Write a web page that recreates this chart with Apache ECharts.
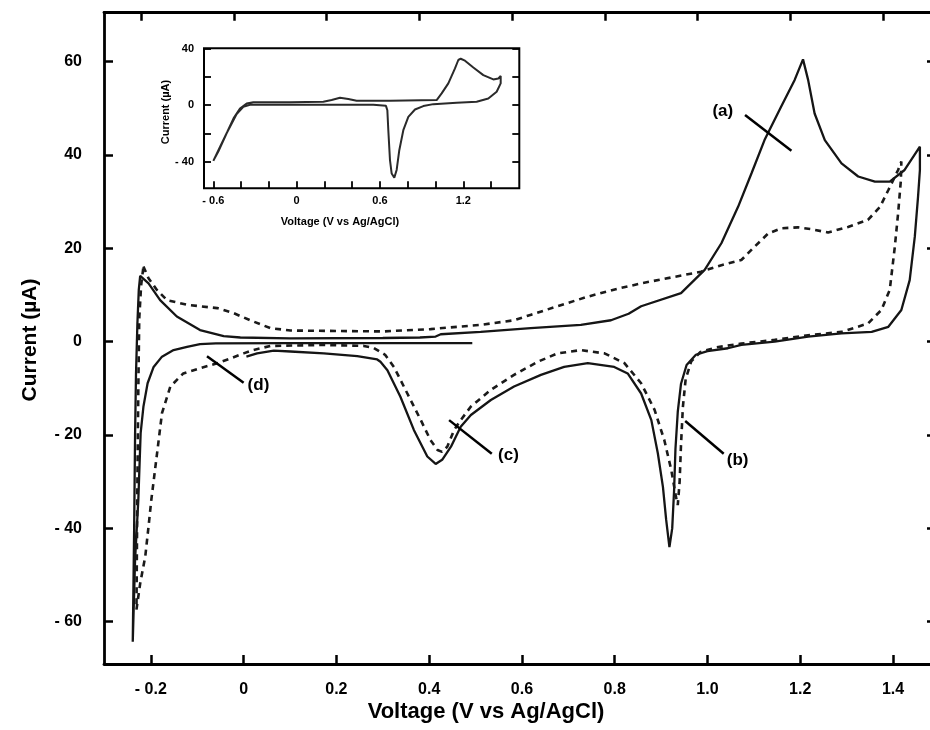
<!DOCTYPE html>
<html><head><meta charset="utf-8">
<script src="https://cdn.jsdelivr.net/npm/echarts@6/dist/echarts.min.js"></script>
<style>html,body{margin:0;padding:0;background:#fff}#c{width:930px;height:730px}</style>
</head><body><div id="c"></div>
<script>
// ---------- DATA ----------
const xTickValues = [-0.2, 0, 0.2, 0.4, 0.6, 0.8, 1.0, 1.2, 1.4];
const yTickValues = [-60, -40, -20, 0, 20, 40, 60];
const insetXTickValues = [-0.6, -0.4, -0.2, 0, 0.2, 0.4, 0.6, 0.8, 1.0, 1.2, 1.4];
const insetXLabelValues = [-0.6, 0, 0.6, 1.2];
const insetYTickValues = [-40, -20, 0, 20, 40];
const insetYLabelValues = [-40, 0, 40];

// solid CV (V, µA)
const solidCurve = [
 [0.493,-0.3],[0.3,-0.3],[0.1,-0.3],[-0.06,-0.35],[-0.094,-0.5],[-0.122,-1.1],[-0.151,-1.8],[-0.176,-3.2],
 [-0.194,-5.4],[-0.207,-8.9],[-0.216,-13.9],[-0.222,-19.6],[-0.227,-33.9],[-0.234,-46.7],[-0.239,-64.3],
 [-0.236,-40],[-0.234,-20],[-0.232,-6.8],[-0.229,3.9],[-0.226,11.1],[-0.223,14.1],[-0.205,12.5],[-0.18,8.9],
 [-0.144,5.4],[-0.094,2.5],[-0.043,1.2],[-0.007,0.9],[0.1,0.7],[0.3,0.8],[0.38,0.9],[0.414,1.1],[0.425,1.6],
 [0.511,2.1],[0.619,2.9],[0.727,3.6],[0.792,4.6],[0.83,6.0],[0.857,7.6],[0.943,10.4],[0.994,15.4],[1.03,21.1],
 [1.066,28.9],[1.095,36.1],[1.123,43.2],[1.159,50.4],[1.188,56.1],[1.206,60.5],[1.217,56.1],[1.231,48.9],
 [1.253,43.2],[1.289,38.2],[1.325,35.4],[1.361,34.3],[1.393,34.3],[1.425,36.8],[1.458,41.8],
 [1.458,36.8],[1.454,31.1],[1.447,22.5],[1.436,13.2],[1.418,6.8],[1.39,3.2],[1.354,2.1],[1.289,1.8],[1.217,1.1],
 [1.145,0],[1.073,-0.7],[1.044,-1.4],[1.0,-2.0],[0.975,-2.8],[0.955,-5.0],[0.943,-9],[0.936,-15],[0.931,-23],
 [0.928,-32],[0.924,-40],[0.918,-44],[0.911,-38.2],[0.904,-31.1],[0.893,-23.9],[0.879,-16.8],[0.857,-11.1],
 [0.828,-6.8],[0.799,-5.4],[0.742,-4.6],[0.691,-5.4],[0.641,-7.1],[0.583,-9.6],[0.533,-12.5],[0.49,-15.7],
 [0.468,-18.2],[0.447,-22.5],[0.428,-25.3],[0.414,-26.2],[0.396,-24.6],[0.367,-18.9],[0.338,-11.8],[0.31,-6.1],
 [0.295,-4.3],[0.288,-3.8],[0.245,-3.1],[0.173,-2.5],[0.101,-2.1],[0.065,-1.9],[0.029,-2.5],[0.006,-3.2]
];

// dashed CV (V, µA)
const dashedCurve = [
 [-0.216,16.1],[-0.205,13.6],[-0.187,11.1],[-0.165,8.9],[-0.122,7.9],[-0.057,7.2],[-0.021,6.1],[0.014,4.6],
 [0.058,2.9],[0.101,2.4],[0.2,2.3],[0.3,2.2],[0.403,2.7],[0.511,3.6],[0.583,4.6],[0.62,5.8],[0.68,7.7],
 [0.74,9.6],[0.8,11.2],[0.857,12.5],[0.929,13.9],[0.986,15],[1.03,16.4],[1.073,17.5],[1.102,20.4],[1.131,23.2],
 [1.159,24.3],[1.195,24.5],[1.224,24.1],[1.26,23.4],[1.303,24.6],[1.346,26.1],[1.372,28.9],[1.39,32.5],
 [1.411,36.8],[1.418,38.6],[1.417,34.6],[1.411,27.5],[1.404,20.4],[1.393,11.1],[1.375,6.8],[1.346,3.9],
 [1.289,2.1],[1.217,1.4],[1.145,0.4],[1.073,-0.4],[1.02,-1.2],[0.985,-2.2],[0.965,-4.2],[0.953,-8],[0.947,-14],
 [0.943,-22],[0.94,-30],[0.936,-35],[0.932,-33.2],[0.922,-27.5],[0.907,-21.1],[0.886,-14.6],[0.857,-8.9],
 [0.821,-4.6],[0.778,-2.5],[0.727,-1.8],[0.677,-2.5],[0.634,-4.3],[0.583,-7.1],[0.533,-10.3],[0.49,-13.9],
 [0.468,-16.8],[0.454,-18.9],[0.439,-22.5],[0.428,-23.6],[0.418,-23.2],[0.403,-21.1],[0.382,-16.8],
 [0.353,-11.1],[0.324,-5.4],[0.305,-2.8],[0.28,-1.3],[0.259,-0.9],[0.173,-0.7],[0.058,-0.9],[0.02,-1.8],
 [0,-2.5],[-0.029,-3.6],[-0.057,-4.6],[-0.094,-5.7],[-0.13,-6.8],[-0.158,-9.6],[-0.176,-15.3],[-0.183,-21],
 [-0.199,-33.9],[-0.205,-39.6],[-0.212,-46],[-0.223,-51.8],[-0.231,-57.4],[-0.229,-30],[-0.227,-10],
 [-0.225,5],[-0.221,12],[-0.216,16.1]
];

// inset CV (V, µA)
const insetCurve = [
 [-0.6,-39.5],[-0.552,-29.6],[-0.499,-18.9],[-0.451,-8.8],[-0.408,-2.4],[-0.36,1.2],[-0.312,2.1],[-0.048,2.1],
 [0.192,2.4],[0.252,3.6],[0.312,5.2],[0.372,4.3],[0.432,3.1],[0.672,3.1],[1.008,3.6],[1.044,8.3],[1.092,15.4],
 [1.14,26],[1.164,32],[1.181,32.9],[1.212,31.5],[1.272,26.7],[1.344,21.3],[1.416,18.2],[1.452,18.9],[1.469,20.6],
 [1.469,15.4],[1.44,9.5],[1.38,4.7],[1.296,2.4],[1.152,1.7],[0.984,0.7],[0.912,-0.7],[0.852,-3.1],[0.804,-8.3],
 [0.768,-17.8],[0.739,-32],[0.72,-46],[0.703,-51.4],[0.684,-48.5],[0.672,-39],[0.66,-17.8],[0.653,-3.6],
 [0.643,-0.5],[0.552,0.2],[0.072,0.2],[-0.336,0.2],[-0.384,-1.2],[-0.432,-6.4],[-0.504,-20],[-0.564,-33],[-0.6,-39.5]
];

// peak annotations: label text, label position, leader line ends (data units)
const annotationNames = ['(a)', '(b)', '(c)', '(d)'];
const annotationText = [[1.033,49.3],[1.065,-25.5],[0.571,-24.4],[0.032,-9.3]];
const annotationLeaders = [
 [1.081,48.6,1.181,40.9],
 [0.952,-17,1.035,-24],
 [0.443,-16.8,0.535,-24.0],
 [-0.079,-3.1,0.0,-8.8]
];

// ---------- CHART ----------
const FONT = 'Liberation Sans, Arial, sans-serif';
const chart = echarts.init(document.getElementById('c'), null, {renderer: 'canvas'});

const fmtX = v => { if (Math.abs(v) < 1e-9) return '0'; return (v < 0 ? '- ' : '') + Math.abs(v).toFixed(1); };
const fmtY = v => { if (Math.abs(v) < 1e-9) return '0'; return (v < 0 ? '- ' : '') + Math.abs(v); };

const X0 = -0.301, X1 = 1.4927, Y0 = -69.06, Y1 = 70.5;
const IX0 = -0.667, IX1 = 1.603, IY0 = -59, IY1 = 40.3;
const noSplit = {show: false};

const series = [
  {type: 'line', name: 'solid', xAxisIndex: 0, yAxisIndex: 0, data: solidCurve, showSymbol: false, symbol: 'none',
   lineStyle: {color: '#151515', width: 2.3}, z: 3},
  {type: 'line', name: 'dashed', xAxisIndex: 0, yAxisIndex: 0, data: dashedCurve, showSymbol: false, symbol: 'none',
   lineStyle: {color: '#1a1a1a', width: 2.6, type: [6, 5]}, z: 3},
  {type: 'line', name: 'inset', xAxisIndex: 2, yAxisIndex: 2, data: insetCurve, showSymbol: false, symbol: 'none',
   lineStyle: {color: '#2a2a2a', width: 2}, z: 3},
  {type: 'custom', name: 'leaders', xAxisIndex: 0, yAxisIndex: 0, data: annotationLeaders, z: 4,
   renderItem: (params, api) => {
     const a = api.coord([api.value(0), api.value(1)]);
     const b = api.coord([api.value(2), api.value(3)]);
     return {type: 'line', shape: {x1: a[0], y1: a[1], x2: b[0], y2: b[1]}, style: {stroke: '#000', lineWidth: 2.5}};
   }},
  {type: 'custom', name: 'labels', xAxisIndex: 0, yAxisIndex: 0, data: annotationText.map((p, i) => [p[0], p[1], i]), z: 5,
   renderItem: (params, api) => {
     const p = api.coord([api.value(0), api.value(1)]);
     return {type: 'text', x: p[0], y: p[1], style: {text: annotationNames[api.value(2)], fill: '#000',
       font: 'bold 17px Liberation Sans, Arial, sans-serif', align: 'center', verticalAlign: 'middle'}};
   }}
];

chart.setOption({
  animation: false,
  backgroundColor: '#fff',
  grid: [
    {left: 104, top: 12.7, width: 832, height: 651.3, outerBoundsMode: 'none', containLabel: false},
    {left: 204, top: 48.3, width: 315.3, height: 140, outerBoundsMode: 'none', containLabel: false,
     show: true, backgroundColor: '#fff', borderColor: '#000', borderWidth: 2}
  ],
  xAxis: [
    {type: 'value', gridIndex: 0, position: 'bottom', min: X0, max: X1, splitLine: noSplit,
     axisLine: {show: true, onZero: false, lineStyle: {color: '#000', width: 2.8}},
     axisTick: {show: true, inside: true, length: 9, customValues: xTickValues, lineStyle: {color: '#000', width: 2.5}},
     axisLabel: {show: true, customValues: xTickValues, formatter: fmtX, margin: 18, color: '#000', fontFamily: FONT, fontWeight: 'bold', fontSize: 16}},
    {type: 'value', gridIndex: 0, position: 'top', min: X0 + 0.021, max: X1 + 0.021, splitLine: noSplit,
     axisLine: {show: true, onZero: false, lineStyle: {color: '#000', width: 2.8}},
     axisTick: {show: true, inside: true, length: 8, customValues: xTickValues, lineStyle: {color: '#000', width: 2.5}},
     axisLabel: {show: false}},
    {type: 'value', gridIndex: 1, position: 'bottom', min: IX0, max: IX1, splitLine: noSplit,
     axisLine: {show: false, onZero: false},
     axisTick: {show: true, inside: true, length: 7, customValues: insetXTickValues, lineStyle: {color: '#000', width: 1.8}},
     axisLabel: {show: true, customValues: insetXLabelValues, formatter: fmtX, margin: 7, color: '#000', fontFamily: FONT, fontWeight: 'bold', fontSize: 11}}
  ],
  yAxis: [
    {type: 'value', gridIndex: 0, position: 'left', min: Y0, max: Y1, splitLine: noSplit,
     axisLine: {show: true, onZero: false, lineStyle: {color: '#000', width: 2.8}},
     axisTick: {show: true, inside: true, length: 9, customValues: yTickValues, lineStyle: {color: '#000', width: 2.5}},
     axisLabel: {show: true, customValues: yTickValues, formatter: fmtY, margin: 22, color: '#000', fontFamily: FONT, fontWeight: 'bold', fontSize: 16}},
    {type: 'value', gridIndex: 0, position: 'right', min: Y0, max: Y1, splitLine: noSplit,
     axisLine: {show: false, onZero: false},
     axisTick: {show: true, inside: true, length: 9, customValues: yTickValues, lineStyle: {color: '#000', width: 2.5}},
     axisLabel: {show: false}},
    {type: 'value', gridIndex: 1, position: 'left', min: IY0, max: IY1, splitLine: noSplit,
     axisLine: {show: false, onZero: false},
     axisTick: {show: true, inside: true, length: 7, customValues: insetYTickValues, lineStyle: {color: '#000', width: 1.8}},
     axisLabel: {show: true, customValues: insetYLabelValues, formatter: fmtY, margin: 10, color: '#000', fontFamily: FONT, fontWeight: 'bold', fontSize: 11}},
    {type: 'value', gridIndex: 1, position: 'right', min: IY0, max: IY1, splitLine: noSplit,
     axisLine: {show: false, onZero: false},
     axisTick: {show: true, inside: true, length: 7, customValues: insetYTickValues, lineStyle: {color: '#000', width: 1.8}},
     axisLabel: {show: false}}
  ],
  graphic: [
    {type: 'text', x: 486, y: 712, style: {text: 'Voltage (V vs Ag/AgCl)', x: 0, y: 0, align: 'center', verticalAlign: 'middle',
      font: 'bold 22px Liberation Sans, Arial, sans-serif', fill: '#000'}},
    {type: 'text', x: 30, y: 340, rotation: Math.PI / 2, style: {text: 'Current (\u00b5A)', x: 0, y: 0, align: 'center', verticalAlign: 'middle',
      font: 'bold 21px Liberation Sans, Arial, sans-serif', fill: '#000'}},
    {type: 'text', x: 340, y: 222, style: {text: 'Voltage (V vs Ag/AgCl)', x: 0, y: 0, align: 'center', verticalAlign: 'middle',
      font: 'bold 11px Liberation Sans, Arial, sans-serif', fill: '#000'}, z: 10},
    {type: 'text', x: 166, y: 112, rotation: Math.PI / 2, style: {text: 'Current (\u00b5A)', x: 0, y: 0, align: 'center', verticalAlign: 'middle',
      font: 'bold 11px Liberation Sans, Arial, sans-serif', fill: '#000'}, z: 10}
  ],
  series: series
});
</script></body></html>
